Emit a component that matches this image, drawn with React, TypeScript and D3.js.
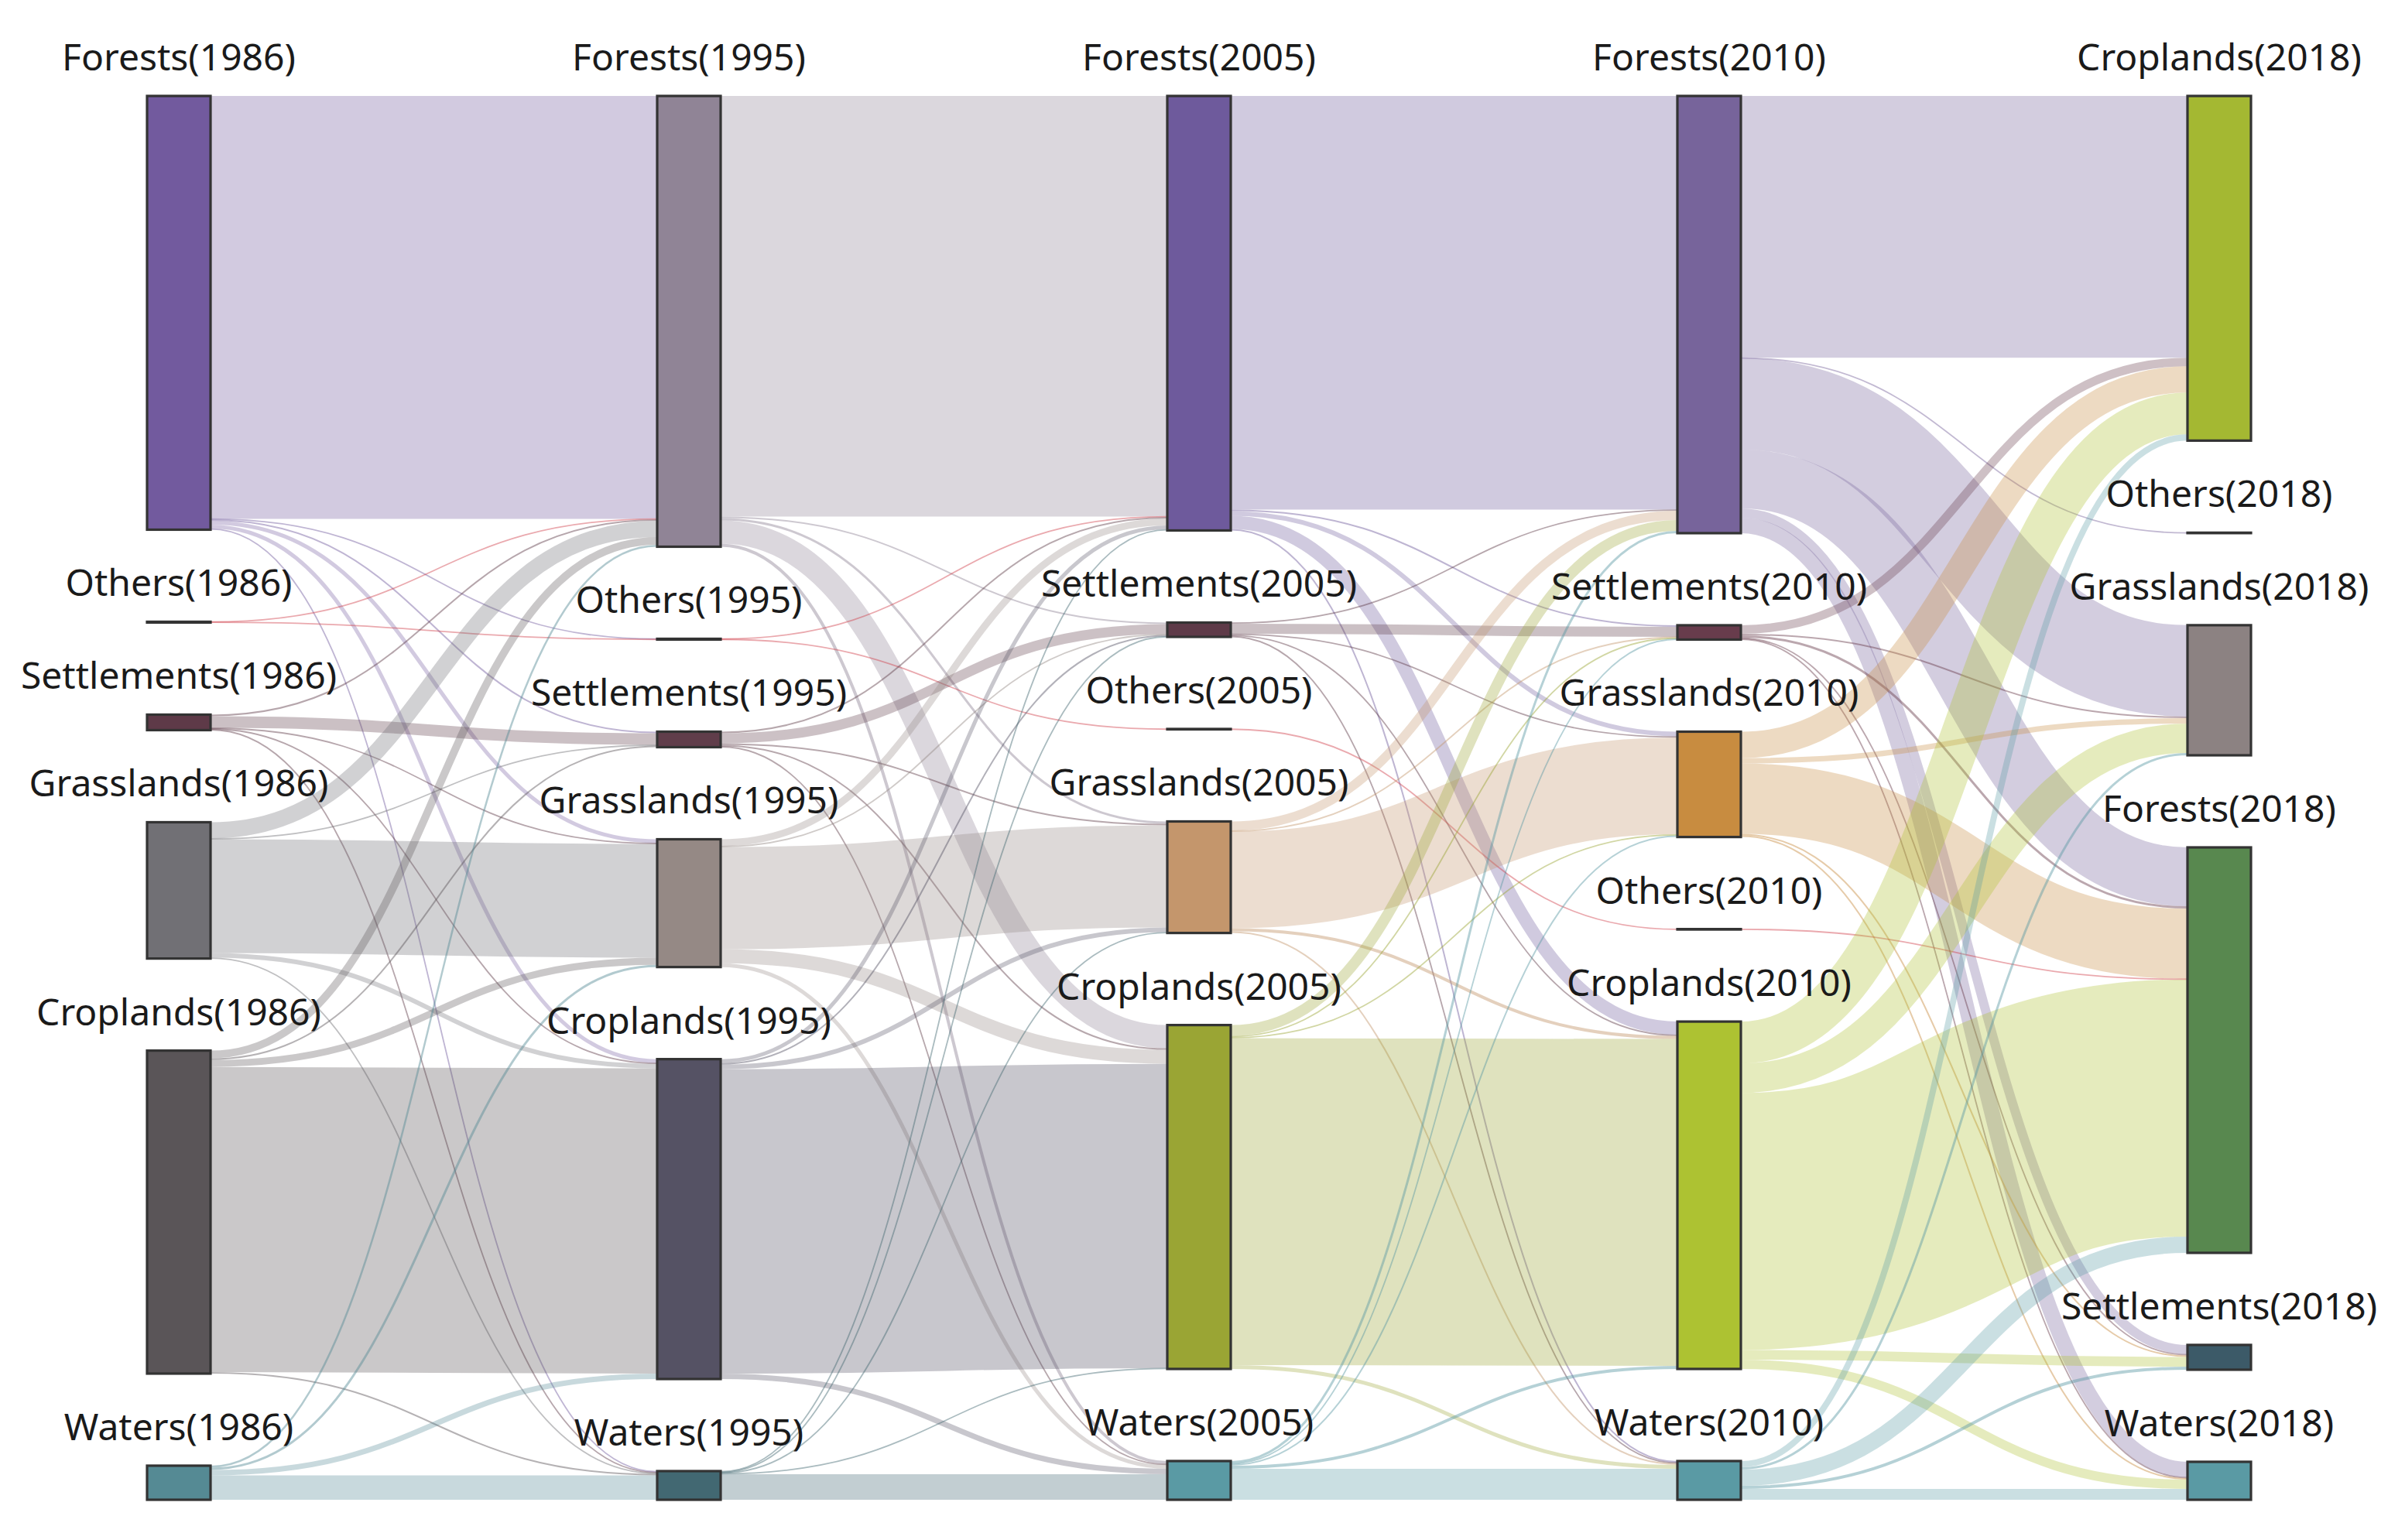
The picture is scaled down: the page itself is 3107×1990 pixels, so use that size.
import React, { useMemo } from 'react';
import * as d3 from 'd3';

const years = ['1986', '1995', '2005', '2010', '2018'];

// node order of every column, top to bottom
const columnOrder = [
  ['Forests', 'Others', 'Settlements', 'Grasslands', 'Croplands', 'Waters'],
  ['Forests', 'Others', 'Settlements', 'Grasslands', 'Croplands', 'Waters'],
  ['Forests', 'Settlements', 'Others', 'Grasslands', 'Croplands', 'Waters'],
  ['Forests', 'Settlements', 'Grasslands', 'Others', 'Croplands', 'Waters'],
  ['Croplands', 'Others', 'Grasslands', 'Forests', 'Settlements', 'Waters'],
];

const columnColors = [
  ['#725a9e', '#d0404c', '#5e3a48', '#717075', '#5a5558', '#558a94'],
  ['#908496', '#d0404c', '#603d4a', '#958985', '#555264', '#426872'],
  ['#6e5a9c', '#5e3a48', '#d0404c', '#c4966c', '#9aa534', '#5a9aa4'],
  ['#77649b', '#683c4c', '#c88c40', '#d0404c', '#adc232', '#5a9aa4'],
  ['#a4b832', '#d0404c', '#8c8282', '#58884f', '#3c5a68', '#5a9aa4'],
];

// flows: rows = source column order, cols = target column order
const flows1986to1995 = [
  [546, 0.5, 2, 5, 5, 1.5],
  [0.5, 0.5, 0, 0, 0, 0],
  [2, 0, 15, 1, 1, 1],
  [21, 0, 1, 147, 6, 1],
  [10, 0, 2, 9, 394, 2],
  [2.5, 0, 0, 3, 7, 31.5],
];

const flows1995to2005 = [
  [543, 2, 0, 3, 30, 4],
  [0.5, 0, 0.5, 0, 0, 0],
  [2, 13, 0, 2, 2, 1],
  [9, 1, 0, 132, 18, 5],
  [5, 2, 0, 6, 393, 7],
  [1.5, 0.5, 0, 1, 1, 33],
];

const flows2005to2010 = [
  [534, 2, 6, 0, 17, 2],
  [1.5, 13, 1.5, 0, 1.5, 1],
  [0, 0, 0, 0.5, 0, 0],
  [12, 1, 125, 0, 4, 2],
  [14, 1.5, 1.5, 0, 422, 5],
  [3, 1, 2, 0, 4, 40],
];

const flows2010to2018 = [
  [338, 0.5, 118, 76, 12, 20],
  [11, 0, 2, 3, 1.5, 1],
  [34, 0, 7, 91, 2, 2],
  [0, 0, 0, 0.5, 0, 0],
  [54, 0, 38, 332, 12.5, 12],
  [8, 0, 3, 21, 4, 14],
];

const flowTables = [flows1986to1995, flows1995to2005, flows2005to2010, flows2010to2018];

interface SNode {
  label: string;
  col: number;
  idx: number;
  color: string;
  value: number;
  x0: number;
  x1: number;
  y0: number;
  y1: number;
  out: SLink[];
  in: SLink[];
}

interface SLink {
  source: SNode;
  target: SNode;
  value: number;
  width: number;
  y0: number;
  y1: number;
}

const width = 3107;
const height = 1990;
const margin = { top: 124, bottom: 52, left: 190, right: 199 };
const nodeWidth = 82;
const nodePadding = 119;

function buildSankey() {
  const columns: SNode[][] = columnOrder.map((names, c) =>
    names.map((name, i) => ({
      label: `${name}(${years[c]})`,
      col: c,
      idx: i,
      color: columnColors[c][i],
      value: 0,
      x0: 0, x1: 0, y0: 0, y1: 0,
      out: [],
      in: [],
    }))
  );

  const links: SLink[] = [];
  flowTables.forEach((table, c) => {
    table.forEach((row, i) => {
      row.forEach((v, j) => {
        if (v <= 0) return;
        const l: SLink = { source: columns[c][i], target: columns[c + 1][j], value: v, width: 0, y0: 0, y1: 0 };
        links.push(l);
        columns[c][i].out.push(l);
        columns[c + 1][j].in.push(l);
      });
    });
  });

  columns.flat().forEach(n => {
    n.value = Math.max(d3.sum(n.out, l => l.value), d3.sum(n.in, l => l.value));
  });

  const innerH = height - margin.top - margin.bottom;
  const ky = d3.min(columns, col => (innerH - (col.length - 1) * nodePadding) / d3.sum(col, n => n.value)) as number;

  const xScale = d3.scaleLinear()
    .domain([0, years.length - 1])
    .range([margin.left, width - margin.right - nodeWidth]);

  columns.forEach((col, c) => {
    let y = margin.top;
    col.forEach(n => {
      n.x0 = xScale(c);
      n.x1 = n.x0 + nodeWidth;
      n.y0 = y;
      n.y1 = y + n.value * ky;
      y = n.y1 + nodePadding;
    });
  });

  links.forEach(l => { l.width = l.value * ky; });

  // stack links on each node in the order of the node they go to / come from
  columns.flat().forEach(n => {
    let y0 = n.y0;
    [...n.out].sort((a, b) => a.target.idx - b.target.idx).forEach(l => {
      l.y0 = y0 + l.width / 2;
      y0 += l.width;
    });
    let y1 = n.y0;
    [...n.in].sort((a, b) => a.source.idx - b.source.idx).forEach(l => {
      l.y1 = y1 + l.width / 2;
      y1 += l.width;
    });
  });

  return { nodes: columns.flat(), links };
}

const App: React.FC = () => {
  const { nodes, links } = useMemo(buildSankey, []);

  const linkPath = d3.linkHorizontal<SLink, [number, number]>()
    .source(d => [d.source.x1, d.y0])
    .target(d => [d.target.x0, d.y1]);

  return (
    <svg
      width={width}
      height={height}
      style={{ position: 'absolute', left: 0, top: 0, background: '#fff' }}
      fontFamily='"Noto Sans", "Open Sans", sans-serif'
    >
      <g fill="none">
        {links.map((l, i) => (
          <path
            key={i}
            d={linkPath(l) || ''}
            stroke={l.source.color}
            strokeWidth={Math.max(1.8, l.width)}
            strokeOpacity={l.width < 5 ? 0.45 : 0.32}
          />
        ))}
      </g>
      <g>
        {nodes.map((n, i) => (
          <rect
            key={i}
            x={n.x0}
            y={n.y0}
            width={n.x1 - n.x0}
            height={Math.max(0.5, n.y1 - n.y0)}
            fill={n.color}
            stroke="#333"
            strokeWidth={3.2}
          />
        ))}
      </g>
      <g textAnchor="middle" fontSize={48} fill="#1a1a1a">
        {nodes.map((n, i) => (
          <text key={i} x={(n.x0 + n.x1) / 2} y={n.y0 - 33}>{n.label}</text>
        ))}
      </g>
    </svg>
  );
};

export default App;
